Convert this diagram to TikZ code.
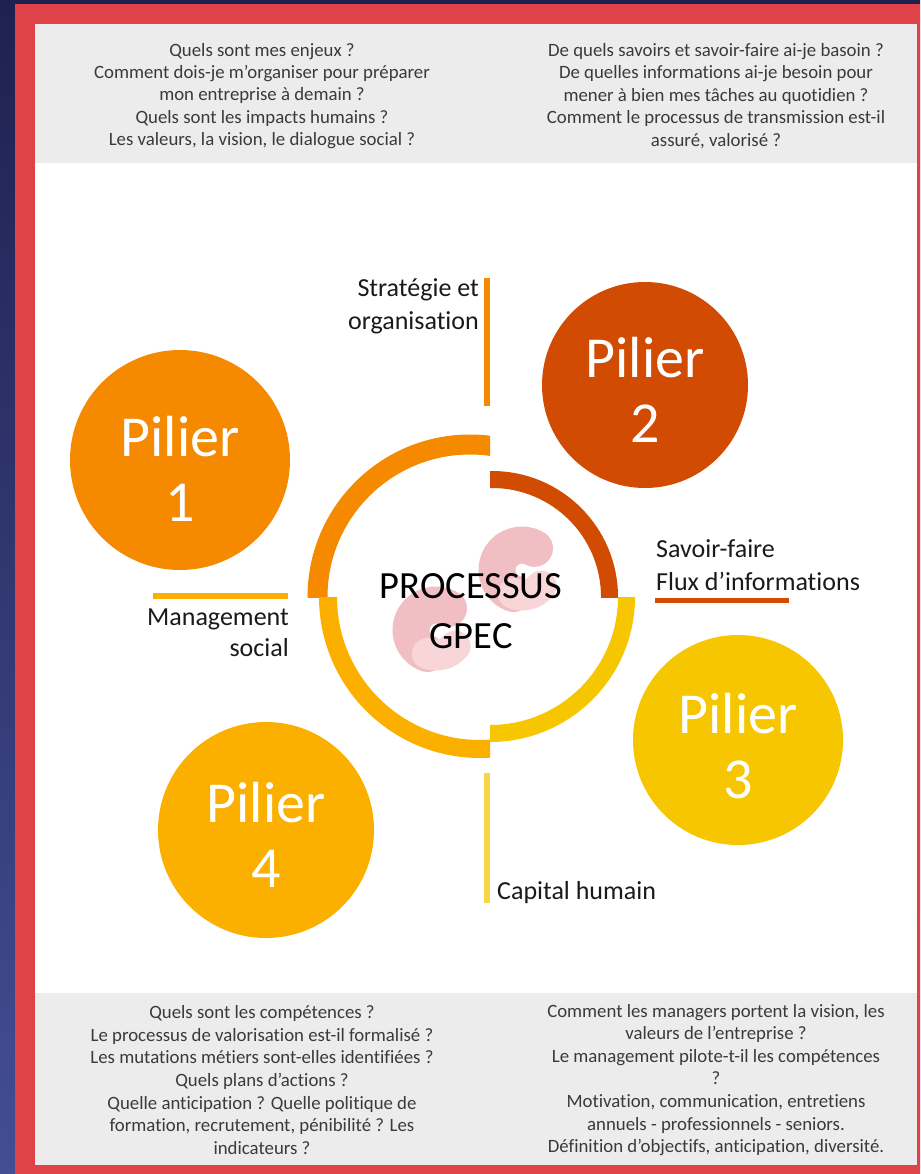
\documentclass[tikz,border=0pt]{standalone}
\usepackage{fontspec}
\setmainfont[Ligatures={NoCommon}]{Carlito}
\usetikzlibrary{calc}

\definecolor{navytop}{HTML}{1F2150}
\definecolor{navybot}{HTML}{434E93}
\definecolor{framered}{HTML}{E04347}
\definecolor{panelgrey}{HTML}{ECECEC}
\definecolor{textgrey}{HTML}{3A3A3A}
\definecolor{labelblack}{HTML}{1A1A1A}
\definecolor{pilA}{HTML}{F58A00}
\definecolor{pilB}{HTML}{D24B02}
\definecolor{pilC}{HTML}{F6C700}
\definecolor{pilD}{HTML}{FBB000}
\definecolor{capline}{HTML}{F8D446}
\definecolor{beanpink}{HTML}{E47F8A}
\definecolor{beanlight}{HTML}{F2AEB2}

\begin{document}
\begin{tikzpicture}[x=1pt,y=-1pt,
  boxtext/.style={align=center, text=textgrey, inner sep=0pt,
    font=\fontsize{18.8}{22.4}\selectfont},
  boxtextlow/.style={boxtext, font=\fontsize{18.8}{22.6}\selectfont},
  pillar/.style={circle, inner sep=0pt, minimum size=#1},
  piliertext/.style={align=center, text=white, inner sep=0pt,
    font=\fontsize{58}{65}\selectfont},
  axislabel/.style={text=labelblack, inner sep=0pt,
    font=\fontsize{26}{33}\selectfont},
  bar/.style={line width=6pt},
  ringpart/.style={line width=#1},
  bean/.style={draw=beanpink, line width=37pt, line cap=round},
  beantail/.style={draw=beanlight, line width=31pt, line cap=round},
  beangroup/.style={transparency group, opacity=0.5}
]
\useasboundingbox (0,0) rectangle (920,1174);

% background, frame and panels
\shade[top color=navytop, bottom color=navybot] (0,0) rectangle (920,1174);
\fill[framered] (15,4) rectangle (920,1174);
\fill[white] (35,24) rectangle (917,1165);
\fill[panelgrey] (35,24) rectangle (917,163);
\fill[panelgrey] (35,993) rectangle (917,1165);

% questions, top panel
\node[boxtext] (qtl) at (262,96) {Quels sont mes enjeux ?\\
  Comment dois-je m’organiser pour préparer\\
  mon entreprise à demain ?\\
  Quels sont les impacts humains ?\\
  Les valeurs, la vision, le dialogue social ?};
\node[boxtext] (qtr) at (716,96) {De quels savoirs et savoir-faire ai-je basoin ?\\
  De quelles informations ai-je besoin pour\\
  mener à bien mes tâches au quotidien ?\\
  Comment le processus de transmission est-il\\
  assuré, valorisé ?};

% questions, bottom panel
\node[boxtextlow] (qbl) at (262,1080) {Quels sont les compétences ?\\
  Le processus de valorisation est-il formalisé ?\\
  Les mutations métiers sont-elles identifiées ?\\
  Quels plans d’actions ?\\
  Quelle anticipation ? Quelle politique de\\
  formation, recrutement, pénibilité ? Les\\
  indicateurs ?};
\node[boxtextlow] (qbr) at (716,1080) {Comment les managers portent la vision, les\\
  valeurs de l’entreprise ?\\
  Le management pilote-t-il les compétences\\
  ?\\
  Motivation, communication, entretiens\\
  annuels - professionnels - seniors.\\
  Définition d’objectifs, anticipation, diversité.};

% four pillars
\node[pillar=220pt, fill=pilA] (p1) at (180,460) {};
\node[pillar=206pt, fill=pilB] (p2) at (645,385) {};
\node[pillar=210pt, fill=pilC] (p3) at (738,740) {};
\node[pillar=216pt, fill=pilD] (p4) at (266,830) {};
\node[piliertext] (t1) at ($(p1)+(0,9)$) {Pilier\\1};
\node[piliertext] (t2) at ($(p2)+(0,5)$) {Pilier\\2};
\node[piliertext] (t3) at ($(p3)+(0,6)$) {Pilier\\3};
\node[piliertext] (t4) at ($(p4)+(0,5)$) {Pilier\\4};

% central ring, four quarters
\begin{scope}
  \clip (290,380) rectangle (490,597);
  \draw[pilA, ringpart=20pt] (470,597) circle[radius=152.5];
\end{scope}
\begin{scope}
  \clip (490,440) rectangle (660,597);
  \draw[pilB, ringpart=17pt] (492,597) circle[radius=117.5];
\end{scope}
\begin{scope}
  \clip (490,597) rectangle (660,780);
  \draw[pilC, ringpart=17pt] (490,597) circle[radius=136.5];
\end{scope}
\begin{scope}
  \clip (290,597) rectangle (490,780);
  \draw[pilD, ringpart=18pt] (480,597) circle[radius=152];
\end{scope}

% watermark beans: a darker body and a paler tail, each bean see-through as a whole
\begin{scope}[beangroup]
  \draw[bean] (436,630) ++(-60:25) arc[start angle=-60, end angle=-250, radius=25];
  \draw[beantail] (436,630) ++(-250:25) arc[start angle=-250, end angle=-320, radius=25];
\end{scope}
\begin{scope}[beangroup]
  \draw[bean] (522,570) ++(-60:25) arc[start angle=-60, end angle=-250, radius=25];
  \draw[beantail] (522,570) ++(-250:25) arc[start angle=-250, end angle=-320, radius=25];
\end{scope}

% centre title
\node[align=center, text=black, inner sep=0pt,
  font=\fontsize{38.5}{50}\selectfont] (core) at (471,611) {PROCESSUS\\GPEC};

% axis bars and labels
\coordinate (s1) at (487,278); \coordinate (s2) at (487,406);
\draw[bar, pilA] (s1) -- (s2);
\node[axislabel, align=right, anchor=east] (strat) at (479,306) {Stratégie et\\organisation};

\coordinate (m1) at (153,596); \coordinate (m2) at (288,596);
\draw[bar, pilD] (m1) -- (m2);
\node[axislabel, align=right, anchor=east, font=\fontsize{26}{31}\selectfont] (mgmt) at (289,633) {Management\\social};

\coordinate (f1) at (655,600); \coordinate (f2) at (789,600);
\draw[line width=5pt, pilB] (f1) -- (f2);
\node[axislabel, align=left, anchor=west] (flux) at (656,565) {Savoir-faire\\Flux d’informations};

\coordinate (c1) at (487,773); \coordinate (c2) at (487,903);
\draw[bar, capline] (c1) -- (c2);
\node[axislabel, anchor=west] (cap) at (497,893) {Capital humain};
\end{tikzpicture}
\end{document}
